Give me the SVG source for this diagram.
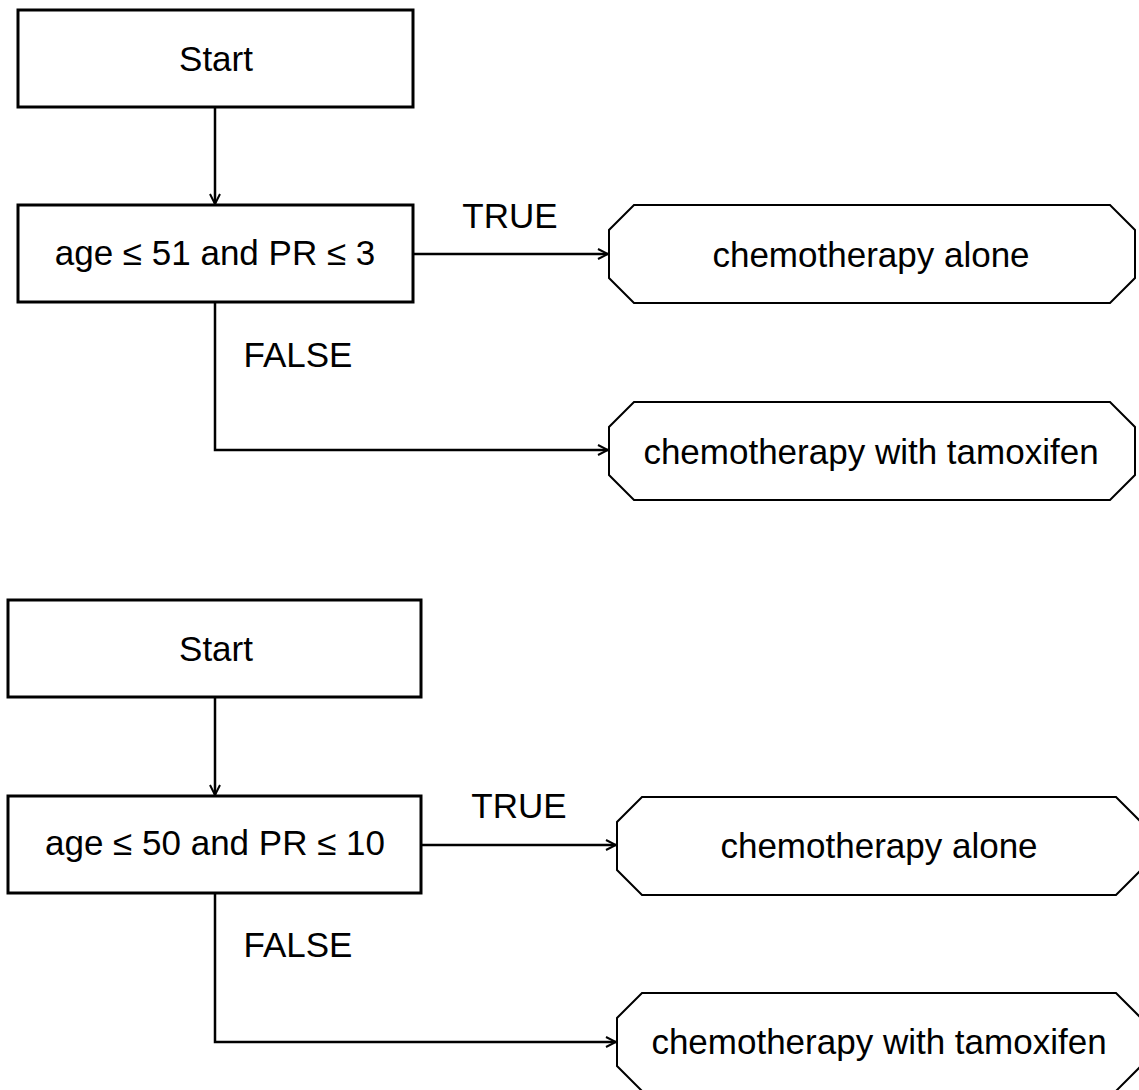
<svg xmlns="http://www.w3.org/2000/svg" width="1139" height="1090" viewBox="0 0 1139 1090">
<style>
.box{fill:#fff;stroke:#000;stroke-width:3}
.oct{fill:#fff;stroke:#000;stroke-width:2}
.t{font-family:"Liberation Sans",Arial,sans-serif;font-size:35px;fill:#000;text-anchor:middle}
.c{fill:none;stroke:#000;stroke-width:2.5}
</style>
<defs>
<marker id="ah" viewBox="0 0 12 12" refX="11" refY="6" markerWidth="12" markerHeight="12" markerUnits="userSpaceOnUse" orient="auto">
<polyline points="1,1 11,6 1,11" fill="none" stroke="#000" stroke-width="2"/>
</marker>
</defs>
<g id="connectors">
<line class="c" x1="215" y1="107" x2="215" y2="204" marker-end="url(#ah)"/>
<line class="c" x1="413" y1="254" x2="608" y2="254" marker-end="url(#ah)"/>
<polyline class="c" points="215,302 215,450 608,450" marker-end="url(#ah)"/>
<line class="c" x1="215" y1="697" x2="215" y2="795" marker-end="url(#ah)"/>
<line class="c" x1="421" y1="845" x2="616" y2="845" marker-end="url(#ah)"/>
<polyline class="c" points="215,893 215,1042 616,1042" marker-end="url(#ah)"/>
<text class="t" x="510" y="228">TRUE</text>
<text class="t" x="298" y="367">FALSE</text>
<text class="t" x="519" y="818">TRUE</text>
<text class="t" x="298" y="957">FALSE</text>
</g>
<g id="start1">
<rect class="box" x="18" y="10" width="395" height="97"/>
<text class="t" x="216" y="71">Start</text>
</g>
<g id="cond1">
<rect class="box" x="18" y="205" width="395" height="97"/>
<text class="t" x="215" y="265">age ≤ 51 and PR ≤ 3</text>
</g>
<g id="alone1">
<polygon class="oct" points="634,205 1110,205 1135,230 1135,278 1110,303 634,303 609,278 609,230"/>
<text class="t" x="871" y="267">chemotherapy alone</text>
</g>
<g id="tam1">
<polygon class="oct" points="634,402 1110,402 1135,427 1135,475 1110,500 634,500 609,475 609,427"/>
<text class="t" x="871" y="464">chemotherapy with tamoxifen</text>
</g>
<g id="start2">
<rect class="box" x="8" y="600" width="413" height="97"/>
<text class="t" x="216" y="661">Start</text>
</g>
<g id="cond2">
<rect class="box" x="8" y="796" width="413" height="97"/>
<text class="t" x="215" y="855">age ≤ 50 and PR ≤ 10</text>
</g>
<g id="alone2">
<polygon class="oct" points="642,797 1116,797 1141,822 1141,870 1116,895 642,895 617,870 617,822"/>
<text class="t" x="879" y="858">chemotherapy alone</text>
</g>
<g id="tam2">
<polygon class="oct" points="642,993 1116,993 1141,1018 1141,1066 1116,1091 642,1091 617,1066 617,1018"/>
<text class="t" x="879" y="1054">chemotherapy with tamoxifen</text>
</g>
</svg>
